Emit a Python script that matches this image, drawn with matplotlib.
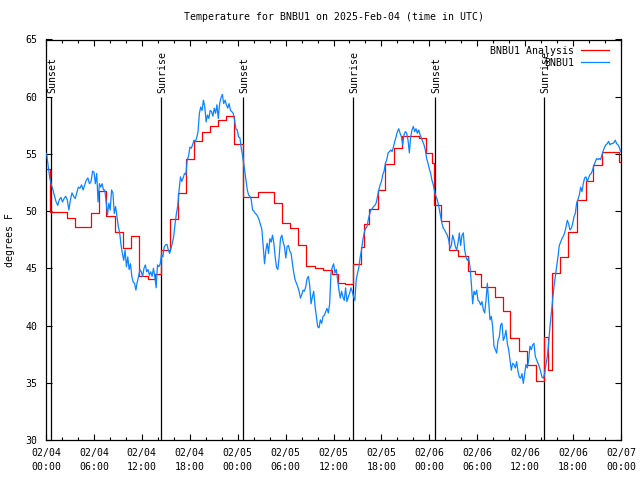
import matplotlib
matplotlib.use("Agg")
import matplotlib.pyplot as plt
import numpy as np

plt.rcParams['font.family'] = ['DejaVu Sans Mono']
FS = 7.1

# hours since 2025-02-04 00:00 UTC
tick_labels = ["02/04\n00:00", "02/04\n06:00", "02/04\n12:00", "02/04\n18:00",
               "02/05\n00:00", "02/05\n06:00", "02/05\n12:00", "02/05\n18:00",
               "02/06\n00:00", "02/06\n06:00", "02/06\n12:00", "02/06\n18:00",
               "02/07\n00:00"]

sun_events = ["Sunset", "Sunrise", "Sunset", "Sunrise", "Sunset", "Sunrise"]
sun_hours = [0.67, 14.44, 24.71, 38.48, 48.75, 62.4]

# BNBU1 Analysis (hourly steps)
red_t = [0, 0.5, 2.6, 3.6, 5.6, 6.6, 7.5, 8.6, 9.6, 10.6, 11.6, 12.8, 13.6, 14.4,
         15.5, 16.5, 17.5, 18.5, 19.5, 20.5, 21.5, 22.5, 23.6, 24.65, 26.6, 28.6,
         29.6, 30.6, 31.6, 32.6, 33.7, 34.7, 35.8, 36.6, 37.5, 38.5, 39.5, 39.8,
         40.5, 41.6, 42.5, 43.6, 44.6, 46.7, 47.6, 48.3, 48.6, 49.5, 50.5, 51.6,
         52.8, 53.7, 54.5, 56.2, 57.2, 58.1, 59.2, 60.2, 61.3, 62.3, 62.8, 63.3,
         64.4, 65.4, 66.5, 67.6, 68.5, 69.6, 71.7, 72]
red_v = [53.7, 49.9, 49.4, 48.6, 49.8, 51.8, 49.6, 48.2, 46.8, 47.8, 44.3, 44.05, 44.5, 46.6,
         49.3, 51.6, 54.6, 56.1, 56.9, 57.4, 58.0, 58.3, 55.9, 51.2, 51.7, 50.7,
         49.0, 48.55, 47.0, 45.2, 45.06, 44.9, 44.55, 43.75, 43.6, 45.4, 46.9, 48.85,
         50.2, 51.85, 54.1, 55.5, 56.6, 56.35, 55.05, 54.2, 50.5, 49.1, 46.6, 46.1,
         44.8, 44.55, 43.4, 42.5, 41.3, 38.9, 37.8, 36.55, 35.15, 39.0, 36.1, 44.6,
         46.0, 48.2, 51.0, 52.6, 54.0, 55.2, 54.3, 54.3]

# BNBU1 observations, read in pieces (start hour, end hour, values)
obs_a = [55.05, 53.9, 52.9, 52.3, 51.85, 51.3, 50.8, 50.5, 51.0, 51.2, 50.8, 51.1, 51.3, 51.0,
         50.1, 51.0, 51.6, 51.3, 51.1, 51.6, 52.1, 52.0, 52.3, 51.85, 52.3, 52.7, 52.9, 52.4,
         52.6, 53.5]
obs_b = [53.4, 52.4, 53.3, 50.8, 52.4, 52.1, 52.4, 51.85, 51.85, 50.8, 49.7, 50.7, 50.1, 51.85,
         51.6, 49.8, 50.4, 49.5, 48.65, 48.1, 47.05, 46.3, 45.7, 46.6, 45.15, 46.0, 44.9, 45.4,
         44.3, 43.8, 43.7, 43.1, 43.8, 44.3, 44.9, 44.7, 44.3, 45.0, 45.3, 44.7, 44.9, 44.4,
         44.7, 44.3, 45.0, 44.3, 43.3, 45.3, 45.15, 45.4, 46.2, 46.0, 46.9, 47.05, 47.1, 46.6,
         46.3, 46.75, 47.2, 47.8, 48.9, 49.8, 50.5, 51.85, 53.0, 52.6, 52.9, 53.3, 53.2, 54.5,
         54.8, 55.6, 55.5, 55.8, 56.2, 56.1, 56.4, 56.95, 58.55, 59.1, 58.8, 59.7, 59.1, 57.8,
         58.4, 58.1, 58.8, 58.7, 58.3, 59.0, 58.55, 59.3, 58.1, 59.4, 59.9, 60.2, 59.4, 59.7,
         59.3, 59.0, 59.4, 58.8, 58.7, 58.55, 58.0, 57.2, 57.1, 56.5, 56.4, 55.5, 54.8]
obs_c = [53.6, 52.7, 51.85, 51.4, 51.3, 51.0, 50.1, 50.0, 49.8, 49.7, 49.5, 49.2, 48.8, 48.4,
         46.9, 45.4, 46.6, 47.2, 46.3, 47.6, 47.3, 47.9, 47.2, 46.0, 45.1, 44.9, 46.0, 47.6,
         47.9, 47.3, 46.9, 45.9, 46.9, 47.0, 46.5, 46.3, 45.4, 44.6, 44.0, 43.7, 43.4, 43.0,
         42.4, 42.7, 43.1, 43.0, 43.4, 44.1, 44.3, 43.5, 41.9, 42.5, 43.0, 41.7, 40.8, 39.9,
         39.8, 40.5, 40.2, 40.8, 40.9, 41.2, 41.5, 41.1, 41.9, 44.6, 45.1, 45.4, 44.6, 44.9,
         44.0, 43.1, 42.4, 43.0, 42.5, 42.2, 43.3, 42.1, 42.5, 42.8, 43.3, 43.0, 42.5, 42.2,
         44.0, 44.6, 45.1, 46.0, 46.6, 47.5, 48.1, 48.5, 48.6, 49.2, 49.7, 50.1, 50.2, 50.4,
         50.5, 50.7, 51.3, 51.85, 52.3, 52.6, 53.2, 53.5, 54.2, 54.5, 55.1, 55.2, 55.35, 55.2,
         55.6, 56.1, 56.5, 56.95, 57.2, 56.8, 56.5, 55.8, 56.7, 56.95, 56.8, 56.2, 55.1, 56.5,
         57.1, 57.4, 56.95, 57.2, 56.8, 57.1, 56.7, 56.4, 56.1, 55.8, 55.35, 54.6, 54.2, 53.7,
         53.3, 52.7, 52.3, 51.7, 51.3, 51.0, 50.5]
obs_d = [49.5, 48.9, 48.5, 48.35, 48.1, 47.9, 47.5, 46.75, 47.0, 47.9, 47.5, 46.9, 46.6, 47.2,
         48.1, 47.0, 47.9, 48.1, 46.6, 46.0, 45.7, 45.9, 45.15, 43.7, 41.9, 43.0, 42.7, 43.1,
         42.2, 42.1, 41.8, 42.1, 41.4, 41.1, 42.2, 43.7, 42.1, 40.5, 40.8, 39.9, 38.2, 37.9,
         37.6, 38.7, 39.0, 40.05, 40.2, 38.7, 39.0, 39.6, 38.45, 37.9, 37.0, 36.1, 36.7, 36.6,
         36.3, 36.85, 36.0, 35.5, 35.4, 35.8, 34.95, 35.8, 36.6, 36.3, 37.0, 38.2, 37.9, 38.3,
         38.45, 37.3, 37.0, 36.7, 36.4, 36.0, 35.5, 35.4, 35.8, 36.6, 37.3, 38.45, 39.9, 41.1,
         42.2, 43.4, 44.3, 45.15, 46.0, 47.0, 47.3, 47.6, 47.8, 48.1, 48.6, 49.2, 48.9, 48.35,
         48.5, 48.9, 49.5, 49.8, 50.7, 51.0, 51.4, 52.1, 51.7, 52.4, 52.9, 53.0, 52.6, 52.9,
         53.2, 53.3, 53.6, 54.0, 54.3, 54.6, 54.5, 54.6, 54.5, 54.9, 55.3, 55.6, 55.8, 55.9,
         56.1, 55.8, 55.9, 55.9, 56.0, 56.2, 55.9, 55.8, 55.6, 55.2]
obs_pieces = [(0.08, 5.84, obs_a), (6.01, 24.62, obs_b), (24.87, 49.16, obs_c), (49.42, 71.95, obs_d)]

obs_t = np.concatenate([np.linspace(a, b, len(v)) for a, b, v in obs_pieces])
obs_v = np.concatenate([v for a, b, v in obs_pieces])

fig = plt.figure(figsize=(6.4, 4.8), dpi=100)
ax = fig.add_axes([46 / 640, 40 / 480, 575 / 640, 400.5 / 480])

ax.vlines(sun_hours, 30, 60, color='black', linewidth=0.9, zorder=1)
for h, name in zip(sun_hours, sun_events):
    ax.text(h + 0.15, 60.35, name, rotation=90, ha='center', va='bottom', fontsize=FS)

ax.plot(red_t, red_v, drawstyle='steps-post', color='#ff0000', linewidth=0.9, label='BNBU1 Analysis', zorder=2)
ax.plot(obs_t, obs_v, color='#0a84ff', linewidth=0.9, label='BNBU1', zorder=3)

ax.set_xlim(0, 72)
ax.set_ylim(30, 65)
ax.set_xticks(np.arange(0, 73, 6))
ax.set_xticks(np.arange(0, 73, 2), minor=True)
ax.set_xticklabels(tick_labels, fontsize=FS, linespacing=1.45)
ax.set_yticks(np.arange(30, 66, 5))
ax.tick_params(axis='both', which='both', direction='in', top=True, right=True, width=0.8)
ax.tick_params(axis='both', which='major', length=4.5)
ax.tick_params(axis='x', which='minor', length=2.5)
ax.tick_params(axis='x', which='major', pad=6)
ax.tick_params(axis='y', which='major', pad=6, labelsize=FS)
for s in ax.spines.values():
    s.set_linewidth(0.9)

ax.set_ylabel('degrees F', fontsize=FS)
ax.yaxis.set_label_coords(-0.054, 0.5)
ax.set_title('Temperature for BNBU1 on 2025-Feb-04 (time in UTC)', fontsize=FS, pad=14)

ax.legend(loc='upper right', bbox_to_anchor=(0.979, 0.984), borderaxespad=0, borderpad=0,
          frameon=False, markerfirst=False, handlelength=2.85, handletextpad=0.7,
          labelspacing=0.2, fontsize=FS)

fig.savefig('out.png', dpi=100)
